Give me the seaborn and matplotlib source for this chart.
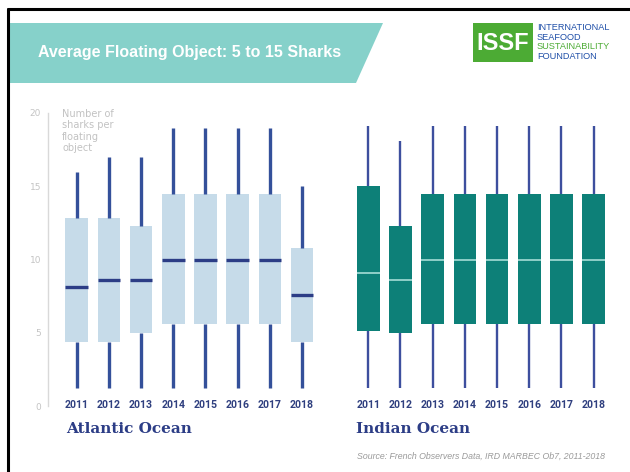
import numpy as np
import pandas as pd
import matplotlib
matplotlib.use("Agg")
import matplotlib.pyplot as plt
import seaborn as sns
from matplotlib.patches import Polygon, Rectangle
from matplotlib.lines import Line2D

# ---------------- data ----------------
years = ["2011", "2012", "2013", "2014", "2015", "2016", "2017", "2018"]

atl_low = [1.2, 1.2, 1.2, 1.2, 1.2, 1.2, 1.2, 1.2]
atl_q1 = [4.4, 4.4, 5.0, 5.6, 5.6, 5.6, 5.6, 4.4]
atl_med = [8.1, 8.6, 8.6, 10.0, 10.0, 10.0, 10.0, 7.6]
atl_q3 = [12.8, 12.8, 12.3, 14.5, 14.5, 14.5, 14.5, 10.8]
atl_high = [16.0, 17.0, 17.0, 19.0, 19.0, 19.0, 19.0, 15.0]

ind_low = [1.2, 1.2, 1.2, 1.2, 1.2, 1.2, 1.2, 1.2]
ind_q1 = [5.1, 5.0, 5.6, 5.6, 5.6, 5.6, 5.6, 5.6]
ind_med = [9.1, 8.6, 10.0, 10.0, 10.0, 10.0, 10.0, 10.0]
ind_q3 = [15.0, 12.3, 14.5, 14.5, 14.5, 14.5, 14.5, 14.5]
ind_high = [19.1, 18.1, 19.1, 19.1, 19.1, 19.1, 19.1, 19.1]

y_ticks = [0, 5, 10, 15, 20]
title = "Average Floating Object: 5 to 15 Sharks"
ylabel = "Number of\nsharks per\nfloating\nobject"
source = "Source: French Observers Data, IRD MARBEC Ob7, 2011-2018"


def long_frame(low, q1, med, q3, high):
    rows = []
    for i, yr in enumerate(years):
        for v in (low[i], q1[i], med[i], q3[i], high[i]):
            rows.append({"year": yr, "value": v})
    return pd.DataFrame(rows)


atl_df = long_frame(atl_low, atl_q1, atl_med, atl_q3, atl_high)
ind_df = long_frame(ind_low, ind_q1, ind_med, ind_q3, ind_high)

# ---------------- figure ----------------
sns.set_style("white")
W, H = 630, 472
fig = plt.figure(figsize=(W / 100, H / 100), dpi=100)
fig.patch.set_facecolor("white")


def fx(x):
    return x / W


def fy(y):
    return 1 - y / H


NAVY = "#2c3d86"
YEARC = "#2f3f7f"

# slide border
fig.add_artist(Line2D([fx(7.5), fx(7.5)], [fy(9), fy(472)], color="black", lw=2.2,
                      transform=fig.transFigure))
fig.add_artist(Line2D([fx(7.5), fx(630)], [fy(9), fy(9)], color="black", lw=2.2,
                      transform=fig.transFigure))

# header band
band = Polygon([(fx(9), fy(23)), (fx(383), fy(23)), (fx(356), fy(83)), (fx(9), fy(83))],
               closed=True, facecolor="#86d1ca", edgecolor="none", transform=fig.transFigure)
fig.add_artist(band)
fig.text(fx(38), fy(53), title, color="white", fontsize=11.5, fontweight="bold",
         family=["Liberation Sans", "DejaVu Sans"], ha="left", va="center")

# logo
fig.add_artist(Rectangle((fx(473), fy(62)), fx(60), 39 / H, facecolor="#4cab34",
                         edgecolor="none", transform=fig.transFigure))
fig.text(fx(503), fy(43), "ISSF", color="white", fontsize=17, fontweight="bold",
         family=["Liberation Sans", "DejaVu Sans"], ha="center", va="center")
logo_lines = [("INTERNATIONAL", "#1f4fa8"), ("SEAFOOD", "#1f4fa8"),
              ("SUSTAINABILITY", "#4cab34"), ("FOUNDATION", "#1f4fa8")]
for k, (t, c) in enumerate(logo_lines):
    fig.text(fx(537), fy(27.5 + k * 9.7), t, color=c, fontsize=6.6,
             family=["Liberation Sans", "DejaVu Sans"], ha="left", va="center")

# axes geometry
ax_w = 270.2
atl_ax = fig.add_axes([fx(48), fy(406), fx(ax_w), 293 / H])
ind_ax = fig.add_axes([fx(339.6), fy(406), fx(ax_w), 293 / H])

common = dict(x="year", y="value", whis=(0, 100), width=0.7, showcaps=False,
              showfliers=False, order=years)

sns.boxplot(data=atl_df, ax=atl_ax, color="#c6dbe9", linecolor=NAVY, linewidth=2.4,
            boxprops=dict(facecolor="#c6dbe9", edgecolor="#c6dbe9", linewidth=0),
            whiskerprops=dict(color="#34509a", linewidth=2.4),
            medianprops=dict(color=NAVY, linewidth=2.4), **common)

sns.boxplot(data=ind_df, ax=ind_ax, color="#0d8078", linecolor="#3d4f9e", linewidth=1.8,
            boxprops=dict(facecolor="#0d8078", edgecolor="#0d8078", linewidth=0),
            whiskerprops=dict(color="#3d4f9e", linewidth=1.7),
            medianprops=dict(color="#8fd0c9", linewidth=1.4), **common)

for ax in (atl_ax, ind_ax):
    ax.set_facecolor("none")
    ax.set_xlim(-0.89, 7.5)
    ax.set_ylim(0, 20)
    ax.set_xlabel("")
    ax.set_ylabel("")
    for s in ax.spines.values():
        s.set_visible(False)
    ax.set_xticks(range(len(years)))
    ax.set_xticklabels(years, fontsize=7.6, fontweight="bold", color=YEARC,
                       family=["Roboto", "DejaVu Sans"])
    ax.tick_params(axis="x", length=0, pad=-4.5)

atl_ax.spines["left"].set_visible(True)
atl_ax.spines["left"].set_color("#d9d9d9")
atl_ax.spines["left"].set_linewidth(1.0)
atl_ax.set_yticks(y_ticks)
atl_ax.set_yticklabels([str(v) for v in y_ticks], fontsize=6.5, color="#c4c4c4")
atl_ax.tick_params(axis="y", length=3, width=0.8, color="#d9d9d9", pad=2)
ind_ax.set_yticks([])

atl_ax.text(0.052, 1.015, ylabel, transform=atl_ax.transAxes, fontsize=7,
            color="#c2c2c2", ha="left", va="top", linespacing=1.2)

# ocean labels
fig.text(fx(66), fy(429), "Atlantic Ocean", fontsize=11, fontweight="bold", color=NAVY,
         family=["DejaVu Serif"], ha="left", va="center")
fig.text(fx(356), fy(429), "Indian Ocean", fontsize=11, fontweight="bold", color=NAVY,
         family=["DejaVu Serif"], ha="left", va="center")

fig.text(fx(605), fy(456), source, fontsize=6.3, style="italic", color="#9a9a9a",
         family=["Liberation Sans", "DejaVu Sans"], ha="right", va="center")

fig.savefig("out.png", dpi=100, facecolor="white")
